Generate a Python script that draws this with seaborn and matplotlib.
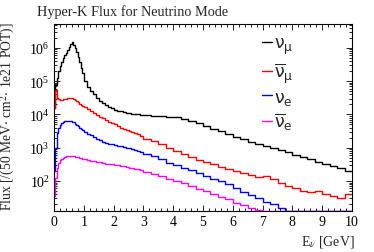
import numpy as np
import pandas as pd
import seaborn as sns
import matplotlib.pyplot as plt
from matplotlib.lines import Line2D
from matplotlib.ticker import MultipleLocator, LogLocator, NullFormatter

# bin edges [GeV]: 50 MeV below 1 GeV, 100 MeV up to 3 GeV, 250 MeV above
edges = np.concatenate([np.linspace(0.0, 0.95, 20),
                        np.linspace(1.0, 2.9, 20),
                        np.linspace(3.0, 10.0, 29)])

numu = [1.6e4, 7.9e4, 1.26e5, 2.0e5, 2.8e5, 3.7e5, 4.8e5, 6.0e5, 7.2e5, 8.9e5,
        1.07e6, 1.29e6, 1.48e6, 1.26e6, 1.0e6, 7.6e5, 5.2e5, 3.7e5, 2.5e5, 1.74e5,
        1.0e5, 6.6e4, 5.0e4, 4.0e4, 3.2e4, 2.6e4, 2.24e4, 1.9e4, 1.66e4, 1.51e4,
        1.38e4, 1.29e4, 1.23e4, 1.17e4, 1.12e4, 1.07e4, 1.05e4, 1.02e4, 1.0e4, 9.8e3,
        9.3e3, 9.1e3, 8.9e3, 8.5e3, 8.1e3, 7.4e3, 6.3e3, 5.4e3, 4.5e3, 3.7e3,
        3.2e3, 2.6e3, 2.1e3, 1.8e3, 1.5e3, 1.3e3, 1.12e3, 1.0e3, 850, 720,
        620, 525, 450, 380, 316, 275, 240, 204]
numubar = [1.6e4, 5.6e4, 3.2e4, 2.9e4, 2.8e4, 2.8e4, 2.9e4, 2.95e4, 3.0e4, 3.1e4,
           3.2e4, 3.2e4, 3.1e4, 2.95e4, 2.75e4, 2.5e4, 2.3e4, 2.1e4, 1.95e4, 1.8e4,
           1.66e4, 1.48e4, 1.26e4, 1.12e4, 9.5e3, 8.3e3, 7.6e3, 6.8e3, 5.9e3, 5.4e3,
           5.0e3, 4.4e3, 4.0e3, 3.6e3, 3.4e3, 3.2e3, 2.9e3, 2.7e3, 2.5e3, 2.3e3,
           1.8e3, 1.55e3, 1.26e3, 950, 800, 660, 525, 435, 370, 316,
           270, 235, 200, 175, 150, 132, 145, 112, 89, 71,
           63, 50, 46, 50, 40, 35, 30, 40]
nue = [200, 1.0e3, 2.8e3, 4.0e3, 4.8e3, 5.4e3, 5.8e3, 6.2e3, 6.3e3, 6.5e3,
       6.5e3, 6.3e3, 6.0e3, 5.8e3, 5.2e3, 4.8e3, 4.4e3, 4.0e3, 3.7e3, 3.4e3,
       3.0e3, 2.6e3, 2.35e3, 2.15e3, 1.86e3, 1.66e3, 1.5e3, 1.4e3, 1.32e3, 1.26e3,
       1.2e3, 1.15e3, 1.1e3, 1.05e3, 1.0e3, 950, 910, 850, 800, 760,
       660, 560, 460, 360, 295, 250, 210, 175, 145, 118,
       100, 83, 63, 48, 38, 30, 23, 20, 15, 0,
       0, 0, 0, 0, 0, 0, 0, 0]
nuebar = [35, 125, 250, 355, 415, 455, 490, 525, 550, 560,
          575, 575, 560, 550, 535, 525, 510, 500, 480, 470,
          445, 425, 405, 400, 380, 365, 345, 330, 325, 316,
          300, 295, 280, 275, 265, 255, 245, 235, 225, 215,
          185, 158, 138, 115, 98, 85, 71, 59, 50, 42,
          34, 28, 22, 19, 16, 13.5, 0, 0, 0, 0,
          0, 0, 0, 0, 0, 0, 0, 0]

flavors = ['numu', 'numubar', 'nue', 'nuebar']
labels = [r'$\mathrm{\nu}_{\mathrm{\mu}}$', r'$\overline{\mathrm{\nu}}_{\mathrm{\mu}}$',
          r'$\mathrm{\nu}_{\mathrm{e}}$', r'$\overline{\mathrm{\nu}}_{\mathrm{e}}$']
colors = ['black', '#ff0000', '#0000ff', '#ff00ff']
ymin, ymax = 12.6, 5.2e6

sns.set_style('ticks')
plt.rcParams['font.family'] = ['Liberation Serif', 'DejaVu Serif']
plt.rcParams['mathtext.fontset'] = 'stix'

rows = []
for name, vals in zip(flavors, [numu, numubar, nue, nuebar]):
    v = np.maximum(np.asarray(vals, float), ymin)  # empty bins drawn on the axis
    v = np.append(v, v[-1])
    for e, f in zip(edges, v):
        rows.append((name, e, f))
df = pd.DataFrame(rows, columns=['flavor', 'E', 'flux'])

fig = plt.figure(figsize=(3.74, 2.53), dpi=100)
ax = fig.add_axes([54/374, 1-212/253, 298/374, 187/253])

sns.lineplot(data=df, x='E', y='flux', hue='flavor', hue_order=flavors,
             palette=dict(zip(flavors, colors)), drawstyle='steps-post',
             estimator=None, sort=False, lw=1.0, legend=False, ax=ax)

ax.set_yscale('log')
ax.set_xlim(0, 10)
ax.set_ylim(ymin, ymax)
ax.set_xlabel('')
ax.set_ylabel('')
ax.xaxis.set_major_locator(MultipleLocator(1))
ax.xaxis.set_minor_locator(MultipleLocator(0.2))
ax.yaxis.set_major_locator(LogLocator(base=10))
ax.yaxis.set_minor_locator(LogLocator(base=10, subs=np.arange(2, 10)))
ax.yaxis.set_minor_formatter(NullFormatter())
ax.tick_params(which='both', direction='in', top=True, right=True,
               width=0.6, colors='black', labelsize=10)
ax.tick_params(which='major', length=4.5, pad=3)
ax.tick_params(which='minor', length=2.2)
for s in ax.spines.values():
    s.set_color('black')
    s.set_linewidth(0.8)

handles = [Line2D([], [], color=c, lw=1.0) for c in colors]
leg = ax.legend(handles, labels, frameon=False, loc='upper left',
                bbox_to_anchor=(262/374, 1-37/253), bbox_transform=fig.transFigure,
                fontsize=12.5, handlelength=0.55, handletextpad=0.15,
                labelspacing=0.25, borderpad=0, borderaxespad=0)
for t in leg.get_texts():
    t.set_math_fontfamily('dejavusans')

fig.text(37/374, 1-12/253, 'Hyper-K Flux for Neutrino Mode', fontsize=10.3,
         ha='left', va='center')
fig.text(8/374, 1-22/253, r'Flux [/(50 MeV$\cdot$ cm$^{2}$$\cdot$ 1e21 POT)]',
         fontsize=9.8, rotation=90, ha='center', va='top')
fig.text(355/374, 1-242/253, r'E$_{\nu}$ [GeV]', fontsize=10,
         ha='right', va='center')

fig.savefig('out.png', dpi=100)
